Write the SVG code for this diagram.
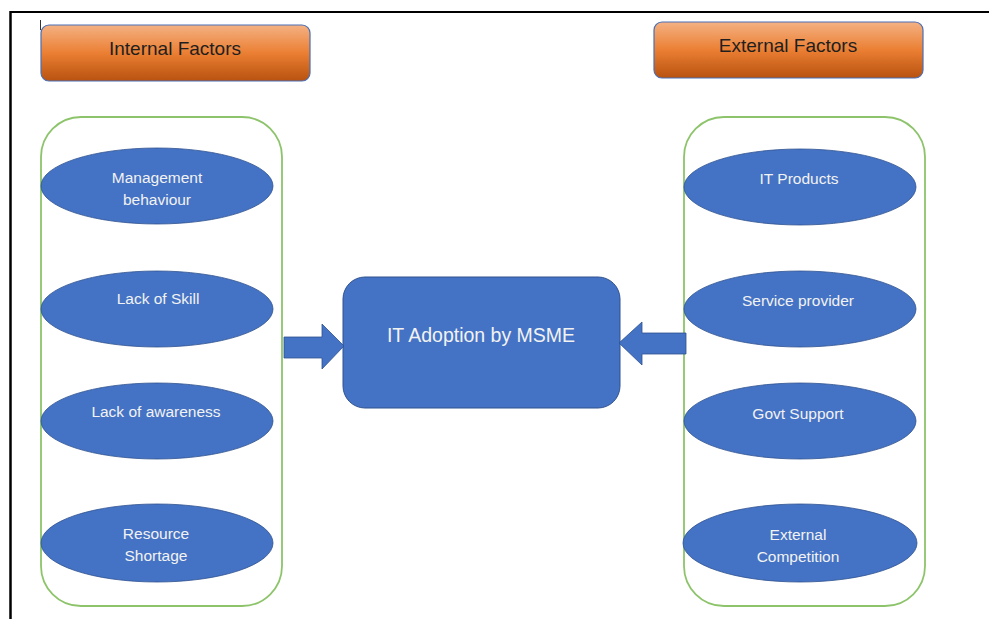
<svg xmlns="http://www.w3.org/2000/svg" width="989" height="619" viewBox="0 0 989 619">
<defs>
<linearGradient id="orange" x1="0" y1="0" x2="0" y2="1">
<stop offset="0" stop-color="#F4B183"/>
<stop offset="0.5" stop-color="#EB7F33"/>
<stop offset="1" stop-color="#B8520F"/>
</linearGradient>
<style>
.hdr{fill:url(#orange);stroke:#4A6FB5;stroke-width:1.2}
.hdrt{font-family:"Liberation Sans",Arial,sans-serif;font-size:19px;fill:#1F1F1F;text-anchor:middle}
.cont{fill:none;stroke:#8DC46B;stroke-width:1.8}
.ell{fill:#4472C4;stroke:#2F528F;stroke-width:0.8}
.et{font-family:"Liberation Sans",Arial,sans-serif;font-size:15.5px;fill:#F2F2F2;text-anchor:middle}
.ct{font-family:"Liberation Sans",Arial,sans-serif;font-size:19.5px;fill:#F2F2F2;text-anchor:middle}
.arr{fill:#4472C4;stroke:#2F528F;stroke-width:0.8}
</style>
</defs>
<rect width="989" height="619" fill="#FFFFFF"/>
<g id="frame">
<line x1="10" y1="12" x2="989" y2="12" stroke="#000" stroke-width="2.2"/>
<line x1="10.5" y1="11" x2="10.5" y2="619" stroke="#000" stroke-width="2.5"/>
<line x1="40.5" y1="20" x2="40.5" y2="30" stroke="#333" stroke-width="1"/>
</g>
<g id="internal-header">
<rect class="hdr" x="41" y="25" width="269" height="56" rx="8"/>
<text class="hdrt" x="175" y="55">Internal Factors</text>
</g>
<g id="external-header">
<rect class="hdr" x="654" y="22" width="269" height="56" rx="8"/>
<text class="hdrt" x="788" y="52">External Factors</text>
</g>
<g id="internal-container">
<rect class="cont" x="41" y="117" width="241" height="489" rx="40"/>
</g>
<g id="external-container">
<rect class="cont" x="684" y="117" width="241" height="489" rx="40"/>
</g>
<g id="management-behaviour">
<ellipse class="ell" cx="157" cy="186" rx="116" ry="38"/>
<text class="et" x="157" y="183">Management</text>
<text class="et" x="157" y="205">behaviour</text>
</g>
<g id="lack-of-skill">
<ellipse class="ell" cx="157" cy="309" rx="116" ry="38"/>
<text class="et" x="158" y="304">Lack of Skill</text>
</g>
<g id="lack-of-awareness">
<ellipse class="ell" cx="157" cy="421" rx="116" ry="38"/>
<text class="et" x="156" y="417">Lack of awareness</text>
</g>
<g id="resource-shortage">
<ellipse class="ell" cx="157" cy="543" rx="116" ry="39"/>
<text class="et" x="156" y="539">Resource</text>
<text class="et" x="156" y="561">Shortage</text>
</g>
<g id="it-products">
<ellipse class="ell" cx="800" cy="187" rx="116" ry="38"/>
<text class="et" x="799" y="184">IT Products</text>
</g>
<g id="service-provider">
<ellipse class="ell" cx="800" cy="309" rx="116" ry="38"/>
<text class="et" x="798" y="306">Service provider</text>
</g>
<g id="govt-support">
<ellipse class="ell" cx="800" cy="421" rx="116" ry="38"/>
<text class="et" x="798" y="419">Govt Support</text>
</g>
<g id="external-competition">
<ellipse class="ell" cx="800" cy="543" rx="117" ry="39"/>
<text class="et" x="798" y="540">External</text>
<text class="et" x="798" y="562">Competition</text>
</g>
<g id="it-adoption">
<rect x="343" y="277" width="277" height="131" rx="22" fill="#4472C4" stroke="#2F528F" stroke-width="1"/>
<text class="ct" x="481" y="342">IT Adoption by MSME</text>
</g>
<g id="connectors">
<polygon class="arr" points="284,337 322,337 322,324 344,346 322,369 322,358 284,358"/>
<polygon class="arr" points="686,333 642,333 642,322 619,343 642,365 642,354 686,354"/>
</g>
</svg>
